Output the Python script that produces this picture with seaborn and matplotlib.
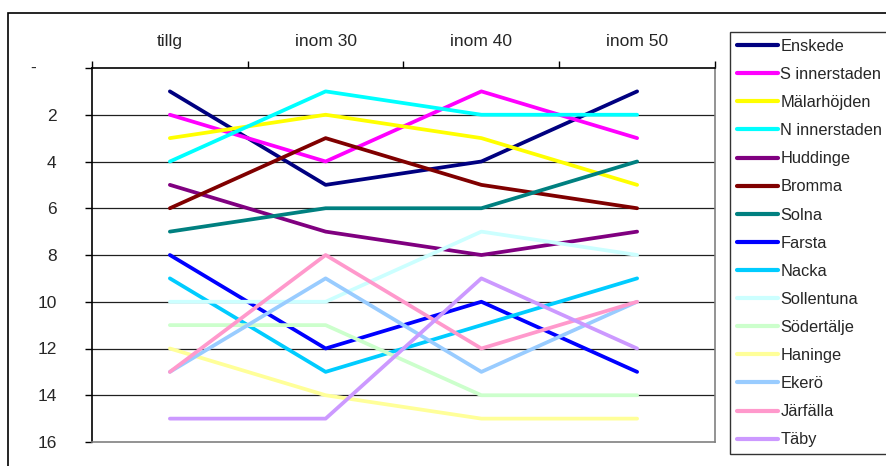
import matplotlib
matplotlib.use("Agg")
import matplotlib.pyplot as plt
from matplotlib.patches import Rectangle
from matplotlib.lines import Line2D
import pandas as pd
import seaborn as sns

# Rankings per area for each travel-time band
categories = ["tillg", "inom 30", "inom 40", "inom 50"]
areas = ["Enskede", "S innerstaden", "Mälarhöjden", "N innerstaden", "Huddinge",
         "Bromma", "Solna", "Farsta", "Nacka", "Sollentuna", "Södertälje",
         "Haninge", "Ekerö", "Järfälla", "Täby"]
enskede = [1, 5, 4, 1]
s_innerstaden = [2, 4, 1, 3]
malarhojden = [3, 2, 3, 5]
n_innerstaden = [4, 1, 2, 2]
huddinge = [5, 7, 8, 7]
bromma = [6, 3, 5, 6]
solna = [7, 6, 6, 4]
farsta = [8, 12, 10, 13]
nacka = [9, 13, 11, 9]
sollentuna = [10, 10, 7, 8]
sodertalje = [11, 11, 14, 14]
haninge = [12, 14, 15, 15]
ekero = [13, 9, 13, 10]
jarfalla = [13, 8, 12, 10]
taby = [15, 15, 9, 12]
ranks = [enskede, s_innerstaden, malarhojden, n_innerstaden, huddinge, bromma,
         solna, farsta, nacka, sollentuna, sodertalje, haninge, ekero,
         jarfalla, taby]
colors = ["#000080", "#FF00FF", "#FFFF00", "#00FFFF", "#800080", "#800000",
          "#008080", "#0000FF", "#00CCFF", "#CCFFFF", "#CCFFCC", "#FFFF99",
          "#99CCFF", "#FF99CC", "#CC99FF"]
y_ticks = [0, 2, 4, 6, 8, 10, 12, 14, 16]

rows = []
for area, vals in zip(areas, ranks):
    for i, v in enumerate(vals):
        rows.append({"area": area, "pos": i, "rank": v})
df = pd.DataFrame(rows)

sns.set_style("white")
plt.rcParams["font.family"] = ["Liberation Sans", "DejaVu Sans"]
FS = 12.5
LFS = 11.8

fig = plt.figure(figsize=(8.87, 4.66), dpi=100)
ax = fig.add_axes([92 / 887, 1 - 442 / 466, (715 - 92) / 887, (442 - 68) / 466])

sns.lineplot(data=df, x="pos", y="rank", hue="area", hue_order=areas,
             palette=colors, linewidth=2.7, sort=False, legend=False, ax=ax,
             zorder=3)

ax.set_xlim(-0.5, 3.5)
ax.set_ylim(16, 0)
ax.set_xlabel("")
ax.set_ylabel("")

# horizontal gridlines
for y in y_ticks[1:-1]:
    ax.axhline(y, color="#202020", lw=0.9, zorder=1)

# category labels along the top
ax.xaxis.tick_top()
ax.set_xticks(range(len(categories)))
ax.set_xticklabels(categories, fontsize=FS)
ax.tick_params(axis="x", which="major", length=0, pad=13.5)
ax.set_xticks([-0.5, 0.5, 1.5, 2.5, 3.5], minor=True)
ax.tick_params(axis="x", which="minor", top=True, bottom=False, length=5,
               width=1, color="black", direction="out")

ax.set_yticks(y_ticks)
ax.set_yticklabels([""] + [str(v) for v in y_ticks[1:]], fontsize=FS)
ax.tick_params(axis="y", left=True, length=5, width=1, color="black",
               direction="out", pad=20.5)
ax.text(-0.095, 0, "-", transform=ax.get_yaxis_transform(), ha="center",
        va="center", fontsize=FS)

for side in ["left", "top"]:
    ax.spines[side].set_color("black")
    ax.spines[side].set_linewidth(1.2)
for side in ["right", "bottom"]:
    ax.spines[side].set_color("#808080")
    ax.spines[side].set_linewidth(1.2)

# legend
handles = [Line2D([0], [0], color=c, lw=3) for c in colors]
leg = fig.legend(handles, areas, loc="upper left",
                 bbox_to_anchor=(730 / 887, 1 - 32 / 466), fontsize=LFS,
                 frameon=True, fancybox=False, handlelength=2.5,
                 handletextpad=0.15, labelspacing=0.8, borderpad=0.42,
                 borderaxespad=0)
leg.get_frame().set_edgecolor("black")
leg.get_frame().set_linewidth(1)

# outer chart border
fig.add_artist(Rectangle((8 / 887, -0.2), 1.5, 1.2 - 12.5 / 466,
                         transform=fig.transFigure, fill=False,
                         edgecolor="black", lw=1.2, clip_on=False))

fig.savefig("out.png", dpi=100)
